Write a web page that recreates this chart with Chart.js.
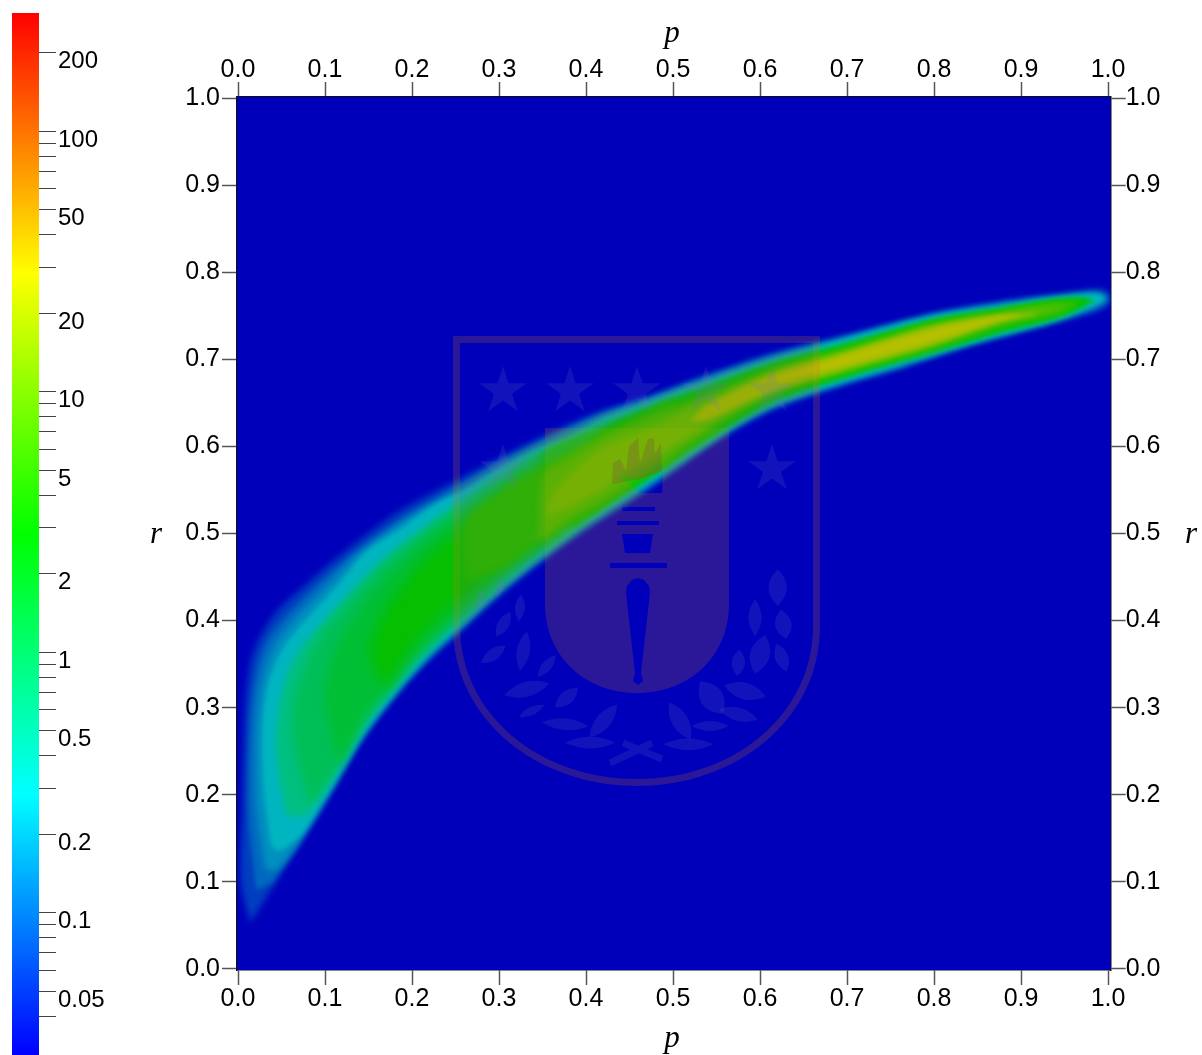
<!DOCTYPE html>
<html><head><meta charset="utf-8">
<script src="https://cdn.jsdelivr.net/npm/chart.js@4"></script>
<style>html,body{margin:0;padding:0;background:#fff;width:1202px;height:1055px;overflow:hidden}canvas{position:absolute;left:0;top:0}</style>
</head><body>
<canvas id="map" width="1202" height="1055"></canvas>
<canvas id="bar" width="130" height="1055"></canvas>
<script>
const pTitle = 'p';
const rTitle = 'r';
const axisTicks = [0, 0.1, 0.2, 0.3, 0.4, 0.5, 0.6, 0.7, 0.8, 0.9, 1.0];
const colorbarTicks = [200,100,90,80,70,60,50,40,30,20,10,9,8,7,6,5,4,3,2,1,0.9,0.8,0.7,0.6,0.5,0.4,0.3,0.2,0.1,0.09,0.08,0.07,0.06,0.05,0.04];
const colorbarLabels = [200,100,50,20,10,5,2,1,0.5,0.2,0.1,0.05];
const colorbarRange = [0.0284, 284];
const rainbow = [[0,0,255],[0,255,255],[0,255,0],[255,255,0],[255,0,0]];

// density contours: [p, r] vertices per level
const contour006 = [[.014,.053],[.003,.101],[.005,.178],[.008,.293],[.014,.350],[.025,.380],[.045,.411],[.079,.442],[.109,.468],[.148,.499],[.186,.526],[.232,.551],[.301,.587],[.347,.610],[.416,.640],[.462,.654],[.539,.682],[.615,.707],[.692,.726],[.799,.753],[.876,.766],[.953,.776],[.991,.780],[1.002,.775],[1.001,.763],[.983,.754],[.914,.735],[.838,.714],[.761,.689],[.692,.669],[.615,.642],[.562,.613],[.462,.544],[.385,.494],[.309,.436],[.255,.387],[.217,.352],[.183,.315],[.144,.264],[.106,.200],[.068,.138]];
const contour01 = [[.021,.090],[.012,.178],[.014,.285],[.021,.340],[.033,.376],[.055,.405],[.090,.440],[.122,.468],[.160,.497],[.197,.522],[.240,.548],[.301,.583],[.347,.606],[.416,.637],[.462,.652],[.539,.680],[.615,.705],[.692,.724],[.799,.752],[.876,.765],[.953,.775],[.990,.778],[1.000,.773],[.999,.765],[.983,.756],[.914,.737],[.838,.716],[.761,.691],[.692,.671],[.615,.644],[.562,.615],[.462,.546],[.385,.496],[.309,.438],[.255,.389],[.217,.354],[.183,.317],[.144,.266],[.106,.202],[.068,.142],[.040,.100]];
const contour016 = [[.031,.115],[.021,.190],[.021,.280],[.028,.333],[.042,.372],[.067,.404],[.102,.440],[.135,.474],[.172,.502],[.210,.527],[.255,.550],[.301,.578],[.339,.598],[.416,.634],[.462,.650],[.539,.678],[.615,.703],[.692,.723],[.799,.750],[.876,.763],[.953,.773],[.985,.775],[.990,.770],[.979,.760],[.914,.738],[.838,.718],[.761,.693],[.692,.672],[.615,.646],[.562,.617],[.462,.549],[.385,.499],[.309,.441],[.255,.392],[.217,.357],[.183,.319],[.144,.269],[.106,.205],[.074,.152],[.052,.122],[.040,.112]];
const contour025 = [[.038,.142],[.030,.204],[.028,.273],[.034,.325],[.051,.367],[.079,.402],[.114,.440],[.148,.480],[.186,.505],[.224,.532],[.263,.552],[.301,.575],[.339,.595],[.378,.610],[.416,.631],[.462,.648],[.539,.675],[.615,.700],[.692,.721],[.799,.749],[.876,.761],[.953,.772],[.989,.775],[.997,.770],[.994,.766],[.979,.759],[.914,.739],[.838,.719],[.761,.695],[.692,.674],[.615,.648],[.562,.619],[.462,.551],[.385,.501],[.309,.443],[.255,.394],[.217,.359],[.183,.321],[.144,.271],[.106,.207],[.074,.156],[.056,.140],[.045,.135]];
const contour06 = [[.056,.176],[.046,.227],[.044,.273],[.051,.319],[.066,.359],[.094,.394],[.129,.432],[.163,.466],[.198,.495],[.232,.520],[.267,.543],[.301,.568],[.339,.588],[.378,.604],[.416,.626],[.462,.642],[.539,.671],[.615,.696],[.692,.718],[.799,.745],[.876,.758],[.945,.767],[.979,.767],[.945,.747],[.876,.729],[.799,.706],[.692,.677],[.615,.651],[.562,.622],[.462,.556],[.385,.505],[.309,.448],[.255,.400],[.217,.365],[.183,.327],[.144,.278],[.106,.216],[.079,.176]];
const contour1 = [[.083,.187],[.066,.250],[.063,.296],[.075,.342],[.094,.382],[.129,.423],[.169,.466],[.209,.497],[.255,.532],[.301,.563],[.347,.592],[.416,.623],[.474,.641],[.531,.641],[.474,.578],[.416,.532],[.385,.509],[.309,.451],[.255,.402],[.217,.367],[.183,.331],[.144,.281],[.106,.218]];
const contour15west = [[.117,.233],[.100,.308],[.111,.365],[.146,.423],[.186,.466],[.226,.500],[.267,.526],[.313,.558],[.370,.581],[.416,.606],[.439,.572],[.385,.514],[.309,.459],[.255,.411],[.217,.377],[.183,.340],[.144,.291]];
const contour15east = [[.347,.537],[.347,.589],[.416,.621],[.462,.642],[.539,.671],[.615,.697],[.692,.716],[.799,.746],[.876,.759],[.945,.770],[.985,.768],[.945,.749],[.876,.731],[.799,.708],[.692,.677],[.615,.650],[.539,.606],[.462,.556],[.416,.526],[.385,.506]];
const contour3west = [[.169,.319],[.152,.365],[.169,.411],[.200,.455],[.238,.492],[.278,.517],[.324,.547],[.382,.572],[.405,.537],[.309,.468],[.255,.424],[.217,.388],[.192,.359]];
const contour3east = [[.370,.560],[.416,.615],[.462,.637],[.539,.666],[.615,.693],[.692,.714],[.799,.744],[.876,.757],[.945,.768],[.977,.768],[.945,.751],[.876,.733],[.799,.711],[.692,.680],[.615,.654],[.539,.611],[.462,.560],[.416,.530],[.385,.512]];
const contour4 = [[.262,.445],[.262,.515],[.300,.548],[.336,.572],[.376,.592],[.416,.612],[.462,.633],[.500,.650],[.500,.590],[.462,.562],[.416,.533],[.385,.516],[.309,.463]];
const contour6 = [[.345,.505],[.350,.565],[.376,.583],[.416,.608],[.462,.630],[.539,.659],[.615,.689],[.692,.711],[.799,.742],[.876,.755],[.945,.766],[.966,.765],[.945,.753],[.876,.737],[.799,.713],[.692,.683],[.615,.659],[.539,.617],[.462,.566],[.416,.537],[.385,.520],[.345,.490]];
const contour9 = [[.353,.520],[.364,.549],[.416,.597],[.462,.616],[.539,.652],[.615,.686],[.692,.708],[.799,.739],[.876,.753],[.947,.761],[.876,.741],[.799,.715],[.692,.685],[.615,.662],[.539,.625],[.462,.578],[.416,.549],[.385,.532]];
const contour17 = [[.520,.629],[.539,.647],[.615,.683],[.692,.706],[.799,.738],[.876,.751],[.920,.752],[.876,.743],[.799,.717],[.692,.687],[.615,.664],[.539,.630]];
const contour25 = [[.600,.672],[.692,.703],[.799,.734],[.876,.749],[.899,.750],[.876,.745],[.799,.721],[.692,.691]];
const contours = [contour006, contour01, contour016, contour025, contour06, contour1, contour15west, contour15east, contour3west, contour3east, contour4, contour6, contour9, contour17, contour25];
const levelValues = [0.06, 0.1, 0.16, 0.25, 0.6, 1.0, 1.5, 1.5, 3, 3, 4, 6, 9, 17, 25];
const levelSoftness = [3, 2.5, 3, 2, 3, 5, 5, 2, 7, 2, 4, 3, 3, 2, 2];

const FONT = '"Liberation Sans", Arial, sans-serif';
const SHADE = 0.75;
function valueColor(v, shade) {
  const lo = Math.log10(colorbarRange[0]), hi = Math.log10(colorbarRange[1]);
  const t = Math.min(1, Math.max(0, (Math.log10(v) - lo) / (hi - lo))) * (rainbow.length - 1);
  const i = Math.min(rainbow.length - 2, Math.floor(t)), f = t - i;
  const c = rainbow[i].map((a, k) => Math.round((a + (rainbow[i + 1][k] - a) * f) * shade));
  return `rgb(${c[0]},${c[1]},${c[2]})`;
}

function drawLogo(chart) {
  const {ctx} = chart, xs = chart.scales.x, ys = chart.scales.y;
  const X = x => xs.getPixelForValue((x - 238) / 870), Y = y => ys.getPixelForValue((968 - y) / 871);
  const shield = (o) => {
    ctx.moveTo(X(453 + o), Y(335 + o)); ctx.lineTo(X(820 - o), Y(335 + o)); ctx.lineTo(X(820 - o), Y(625));
    ctx.bezierCurveTo(X(820 - o), Y(720 - o), X(735), Y(785 - o), X(637), Y(785 - o));
    ctx.bezierCurveTo(X(539), Y(785 - o), X(453 + o), Y(720 - o), X(453 + o), Y(625));
    ctx.closePath();
  };
  const inner = () => {
    ctx.moveTo(X(545), Y(427)); ctx.lineTo(X(729), Y(427)); ctx.lineTo(X(729), Y(603));
    ctx.bezierCurveTo(X(729), Y(655), X(690), Y(692), X(637), Y(692));
    ctx.bezierCurveTo(X(585), Y(692), X(545), Y(655), X(545), Y(603));
    ctx.closePath();
  };
  const poly = (pts) => { pts.forEach((q, i) => i ? ctx.lineTo(X(q[0]), Y(q[1])) : ctx.moveTo(X(q[0]), Y(q[1]))); ctx.closePath(); };
  ctx.save();
  // tint of the shield interior only shows on the band
  ctx.save();
  ctx.beginPath();
  contour01.forEach((q, i) => { const a = xs.getPixelForValue(q[0]), b = ys.getPixelForValue(q[1]); i ? ctx.lineTo(a, b) : ctx.moveTo(a, b); });
  ctx.closePath(); ctx.clip();
  ctx.beginPath(); shield(7); inner(); ctx.fillStyle = 'rgba(170,80,60,0.14)'; ctx.fill('evenodd');
  ctx.restore();
  // ring
  ctx.beginPath(); shield(0); shield(7);
  ctx.fillStyle = 'rgba(210,120,25,0.2)'; ctx.fill('evenodd');
  // inner panel with torch cut out
  ctx.beginPath(); inner();
  poly([[622,506],[655,506],[655,510],[622,510]]);
  poly([[617,520],[659,520],[659,524],[617,524]]);
  poly([[622,533],[653,533],[650,552],[625,552]]);
  poly([[610,562],[667,562],[667,567],[610,567]]);
  poly([[627,585],[632,579],[638,577],[644,579],[649,585],[650,592],[641,672],[643,680],[638,684],[633,680],[635,672],[626,592]]);
  poly([[612,470],[640,492],[662,492],[663,470],[640,478]]);
  ctx.fillStyle = 'rgba(210,120,25,0.2)'; ctx.fill('evenodd');
  // flame
  ctx.beginPath();
  poly([[612,483],[613,462],[620,458],[626,470],[629,445],[638,437],[640,462],[648,438],[654,437],[655,452],[661,442],[662,470],[640,478]]);
  ctx.fillStyle = 'rgba(120,30,90,0.18)'; ctx.fill();
  // stars and laurel
  ctx.fillStyle = 'rgba(110,110,200,0.17)';
  const logoStars = [[503,390],[570,390],[637,390],[706,390],[772,390],[503,468],[772,468]];
  ctx.beginPath();
  logoStars.forEach(s => {
    const p = [];
    for (let i = 0; i < 10; i++) { const a = -Math.PI / 2 + i * Math.PI / 5, R = i % 2 ? 9.5 : 25; p.push([s[0] + R * Math.cos(a), s[1] + R * Math.sin(a)]); }
    poly(p);
  });
  ctx.fill();
  const Z = (x, y) => [440 + x / 3, 320 + y / 3];
  const leaves = [[120,840,70,25,80],[180,800,60,25,70],[240,860,80,30,85],[190,910,85,35,60],[160,1000,90,35,35],[250,990,120,40,80],[320,1035,85,30,50],[260,1105,140,45,15],[380,1130,90,40,40],[275,1170,85,25,25],[375,1210,140,35,-5],[490,1200,130,45,50],[450,1265,150,35,0],
    [1013,800,110,55,90],[945,890,110,40,90],[1030,910,90,50,100],[960,1000,120,60,75],[1025,1010,90,40,110],[895,1025,80,40,85],[815,1130,120,70,-55],[915,1110,130,50,-15],[895,1180,120,40,-15],[720,1200,130,50,-60],[810,1215,110,30,0],[745,1270,150,35,0]];
  leaves.forEach(l => {
    const c = Z(l[0], l[1]), len = l[2] / 6, w = l[3] / 3, a = l[4] * Math.PI / 180;
    const cs = Math.cos(a), sn = Math.sin(a);
    const P = (u, v) => [X(c[0] + u * cs + v * sn), Y(c[1] - u * sn + v * cs)];
    const A = P(-len, 0), B = P(len, 0), C1 = P(0, w), C2 = P(0, -w);
    ctx.beginPath(); ctx.moveTo(A[0], A[1]); ctx.quadraticCurveTo(C1[0], C1[1], B[0], B[1]); ctx.quadraticCurveTo(C2[0], C2[1], A[0], A[1]); ctx.fill();
  });
  ctx.strokeStyle = 'rgba(110,110,200,0.17)'; ctx.lineWidth = 7;
  ctx.beginPath(); ctx.moveTo(X(610), Y(762)); ctx.lineTo(X(652), Y(742)); ctx.moveTo(X(623), Y(742)); ctx.lineTo(X(662), Y(758)); ctx.stroke();
  ctx.restore();
}

const mapPlugin = {
  id: 'mapPlugin',
  beforeDatasetsDraw(chart) {
    const {ctx, chartArea: a} = chart;
    ctx.save();
    ctx.fillStyle = '#0000BA';
    ctx.fillRect(a.left, a.top, a.right - a.left, a.bottom - a.top);
    ctx.restore();
    ctx.filter = `blur(${levelSoftness[0]}px)`;
  },
  afterDatasetDraw(chart, args) {
    const next = levelSoftness[args.index + 1];
    chart.ctx.filter = next ? `blur(${next}px)` : 'none';
  },
  afterDatasetsDraw(chart) {
    chart.ctx.filter = 'none';
    drawLogo(chart);
  },
  afterDraw(chart) {
    const {ctx} = chart;
    ctx.save();
    ctx.fillStyle = '#000'; ctx.textAlign = 'center'; ctx.textBaseline = 'middle';
    ctx.font = 'italic 31px "Liberation Serif", serif';
    const xm = chart.scales.x.getPixelForValue(0.5), ym = chart.scales.y.getPixelForValue(0.5);
    ctx.fillText(pTitle, xm - 1, 34);
    ctx.fillText(pTitle, xm - 1, 1039);
    ctx.fillText(rTitle, 156, ym + 1);
    ctx.fillText(rTitle, 1191, ym + 1);
    ctx.restore();
  }
};

const fixedTicks = s => { s.ticks = axisTicks.map(v => ({value: v})); };
const axis = (position, size, padding, horizontal) => ({
  type: 'linear', position, offset: false,
  min: -0.00115,
  max: horizontal ? 1.0031 : 1.00115,
  afterBuildTicks: fixedTicks,
  afterFit: s => { if (horizontal) s.height = size; else s.width = size; },
  border: {display: true, color: '#111', width: 1.5},
  grid: {drawOnChartArea: false, drawTicks: true, tickLength: 15, tickColor: '#555', tickWidth: 1.5},
  ticks: {color: '#000', font: {family: FONT, size: 25}, padding, maxRotation: 0, minRotation: 0, autoSkip: false,
    callback: v => Number(v).toFixed(1)}
});

new Chart(document.getElementById('map'), {
  type: 'scatter',
  data: {datasets: contours.map((c, i) => ({
    label: 'density ' + levelValues[i],
    data: c.map(q => ({x: q[0], y: q[1]})),
    order: contours.length - i,
    showLine: true, fill: 'shape', tension: 0.3,
    backgroundColor: valueColor(levelValues[i], SHADE),
    borderColor: valueColor(levelValues[i], SHADE), borderWidth: 0,
    pointRadius: 0, xAxisID: 'x', yAxisID: 'y'
  }))},
  options: {
    responsive: false, animation: false,
    layout: {padding: 0, autoPadding: false},
    plugins: {legend: {display: false}, tooltip: {enabled: false}},
    scales: {
      x: axis('bottom', 85, -1, true),
      x2: axis('top', 97, -3, true),
      y: axis('left', 237, 2, false),
      y2: axis('right', 91.3, 0, false)
    }
  },
  plugins: [mapPlugin]
});

new Chart(document.getElementById('bar'), {
  type: 'bar',
  data: {labels: ['density'], datasets: [{
    data: [colorbarRange],
    barPercentage: 1, categoryPercentage: 1, borderWidth: 0, borderSkipped: false,
    backgroundColor: (c) => {
      const a = c.chart.chartArea;
      if (!a) return '#00f';
      const g = c.chart.ctx.createLinearGradient(0, a.bottom, 0, a.top);
      rainbow.forEach((k, i) => g.addColorStop(i / (rainbow.length - 1), `rgb(${k[0]},${k[1]},${k[2]})`));
      return g;
    }
  }]},
  options: {
    responsive: false, animation: false,
    layout: {padding: {left: 12, top: 13, bottom: 0, right: 0}, autoPadding: false},
    plugins: {legend: {display: false}, tooltip: {enabled: false}},
    scales: {
      x: {display: false},
      y: {
        type: 'logarithmic', position: 'right', min: colorbarRange[0], max: colorbarRange[1],
        afterBuildTicks: s => { s.ticks = colorbarTicks.map(v => ({value: v})); },
        afterFit: s => { s.width = 91; s.paddingTop = 0; s.paddingBottom = 0; },
        border: {display: false},
        grid: {drawOnChartArea: false, drawTicks: true, tickLength: 17, tickColor: '#444', tickWidth: 1},
        ticks: {color: '#000', font: {family: FONT, size: 24}, padding: 2, labelOffset: 9, autoSkip: false, maxRotation: 0,
          callback: v => colorbarLabels.includes(v) ? String(v) : ''}
      }
    }
  }
});
</script>
</body></html>
